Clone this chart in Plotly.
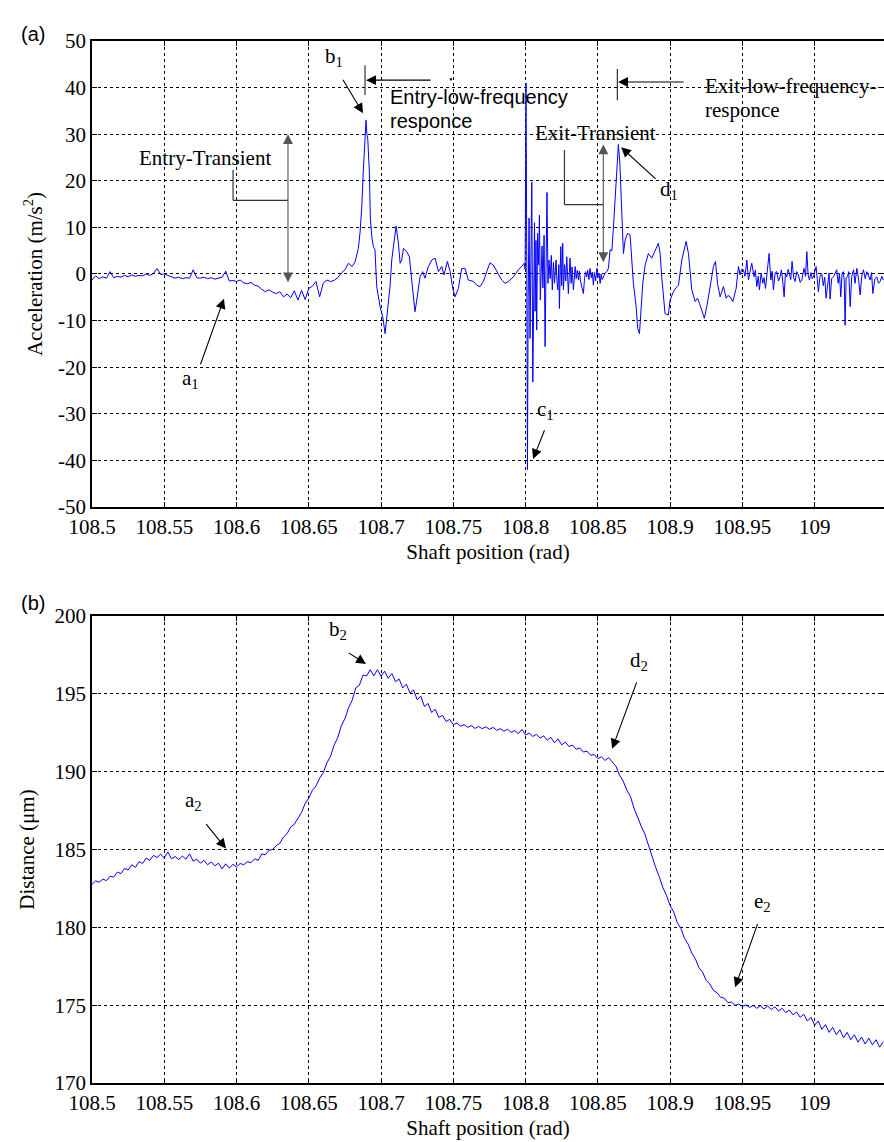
import plotly.graph_objects as go

# ---------------- (a) acceleration, (position rad, value m/s^2) -------------
acc_entry = [
    (108.5000, -1.3), (108.5025, -0.4), (108.5050, -1.0), (108.5075, -0.6), (108.5100, -0.9),
    (108.5125, 0.5), (108.5150, -0.8), (108.5175, -0.5), (108.5200, -0.7), (108.5225, -0.3),
    (108.5250, -0.6), (108.5275, -0.2), (108.5300, -0.5), (108.5325, -0.3), (108.5350, -0.4),
    (108.5375, 0.0), (108.5400, -0.3), (108.5425, 0.1), (108.5450, 1.2), (108.5475, -0.1),
    (108.5500, 0.0), (108.5525, -0.3), (108.5550, -0.6), (108.5575, -0.9), (108.5600, -0.7),
    (108.5625, -1.0), (108.5650, -0.8), (108.5675, -0.9), (108.5700, 0.9), (108.5725, -0.8),
    (108.5750, -0.9), (108.5775, -0.7), (108.5800, -1.0), (108.5825, -0.8), (108.5850, -1.1),
    (108.5875, -0.9), (108.5900, -0.7), (108.5925, 0.6), (108.5950, -1.5), (108.5975, -1.4),
    (108.6000, -1.6), (108.6025, -1.3), (108.6050, -1.9), (108.6075, -2.1), (108.6100, -1.8),
    (108.6125, -2.4), (108.6150, -2.6), (108.6175, -3.3), (108.6200, -3.8), (108.6225, -3.4),
    (108.6250, -3.9), (108.6275, -4.2), (108.6300, -3.8), (108.6325, -4.9), (108.6350, -4.3),
    (108.6375, -5.1), (108.6400, -3.6), (108.6425, -5.6), (108.6450, -3.5), (108.6475, -5.5),
    (108.6500, -3.1), (108.6525, -2.6), (108.6550, -1.6), (108.6575, -4.9), (108.6600, -2.0),
    (108.6625, -1.3), (108.6650, -1.6), (108.6675, -1.4), (108.6700, -0.8), (108.6725, 0.2),
    (108.6750, 0.9), (108.6775, 2.3), (108.6800, 1.6), (108.6820, 2.6),
]
acc_entry_peak = [
    (108.6843, 5.5), (108.6855, 9.0), (108.6866, 14.0), (108.6877, 22.0), (108.6888, 30.0),
    (108.6896, 33.0), (108.6902, 30.0), (108.6908, 29.0), (108.6919, 22.0), (108.6926, 12.0),
    (108.6936, 8.0), (108.6947, 5.9), (108.6958, 5.2), (108.6970, -2.7), (108.6993, -7.0),
    (108.7012, -9.2), (108.7028, -12.8), (108.7039, -9.2), (108.7062, -2.7), (108.7074, 3.0),
    (108.7090, 7.3), (108.7104, 10.3), (108.7120, 6.6), (108.7132, 2.3), (108.7143, 3.0),
    (108.7155, 5.5), (108.7178, 4.8), (108.7196, 3.7), (108.7212, -1.3), (108.7228, -5.6),
    (108.7235, -8.1), (108.7247, -5.6), (108.7270, -0.6), (108.7288, 0.5), (108.7304, -0.9),
    (108.7327, 1.6), (108.7351, 3.0), (108.7374, 3.4), (108.7397, 0.5), (108.7420, 1.6),
    (108.7436, -0.2), (108.7459, 2.7), (108.7478, 0.5), (108.7496, -3.1), (108.7512, -4.9),
    (108.7535, -3.1), (108.7558, 1.2), (108.7581, 1.2), (108.7604, -1.3), (108.7639, -1.6),
    (108.7662, -2.4), (108.7685, -2.7), (108.7708, -1.6), (108.7731, 0.5), (108.7754, 2.4),
    (108.7777, 1.9), (108.7800, 0.5), (108.7835, -1.3), (108.7858, -2.0), (108.7881, -1.6),
    (108.7916, -0.6), (108.7950, 0.9), (108.7973, 1.6), (108.7990, 2.3),
]
acc_exit_transient = [
    (108.7997, 1.0), (108.8003, 41.0), (108.8008, 5.0), (108.8013, -42.0), (108.8018, -5.0),
    (108.8024, 12.0), (108.8031, -13.8), (108.8037, 8.0), (108.8043, 19.7), (108.8050, -23.2),
    (108.8056, 2.0), (108.8062, 11.0), (108.8066, -8.0), (108.8072, 7.2), (108.8077, -12.0),
    (108.8083, 8.7), (108.8090, 2.0), (108.8096, 12.6), (108.8102, -5.6), (108.8108, 3.0),
    (108.8114, 6.0), (108.8120, -3.0), (108.8128, 8.3), (108.8135, -15.6), (108.8141, 5.0),
    (108.8148, 17.5), (108.8155, -2.0), (108.8162, 3.0), (108.8170, -1.0), (108.8178, 4.0),
    (108.8185, -3.4), (108.8193, 2.5), (108.8200, -2.0), (108.8211, 3.0), (108.8217, -1.5),
    (108.8223, -3.4), (108.8230, 2.0), (108.8234, -7.4), (108.8240, 1.0), (108.8244, 5.9),
    (108.8250, -2.5), (108.8257, 6.6), (108.8262, -3.4), (108.8270, 2.0), (108.8278, -1.5),
    (108.8285, 3.7), (108.8296, -4.2), (108.8302, 1.0), (108.8308, 3.4), (108.8315, -2.0),
    (108.8322, 1.5), (108.8331, -3.4), (108.8337, 0.5), (108.8343, 1.6), (108.8350, -1.0),
    (108.8358, 0.8), (108.8366, -1.3), (108.8372, 0.6), (108.8380, -1.5), (108.8389, -2.7),
    (108.8400, -4.2), (108.8408, -1.0), (108.8415, 0.5), (108.8423, -0.6), (108.8430, 0.8),
    (108.8438, -1.2), (108.8446, 1.2), (108.8455, -0.8), (108.8462, 0.4), (108.8469, -2.4),
    (108.8476, 0.3), (108.8485, -1.5), (108.8493, 1.2), (108.8500, -0.8), (108.8508, 0.2),
    (108.8516, -2.0), (108.8523, 0.0), (108.8530, -1.2), (108.8539, -0.6), (108.8550, 0.2),
    (108.8562, 0.5), (108.8573, 1.2), (108.8585, 5.2), (108.8597, 5.0), (108.8608, 10.0),
    (108.8620, 16.0), (108.8631, 22.0), (108.8642, 27.8), (108.8652, 24.0), (108.8660, 17.0),
    (108.8666, 12.0), (108.8677, 4.4),
]
acc_exit_tail = [
    (108.8689, 7.3), (108.8705, 8.7), (108.8723, 8.4), (108.8735, 3.7), (108.8746, -2.0),
    (108.8765, -7.0), (108.8776, -11.7), (108.8788, -12.8), (108.8797, -9.2), (108.8811, -2.0),
    (108.8827, 1.9), (108.8850, 4.4), (108.8873, 3.4), (108.8896, 5.2), (108.8919, 6.6),
    (108.8931, 4.4), (108.8942, -0.6), (108.8965, -8.5), (108.8988, -8.8), (108.9000, -5.6),
    (108.9023, -3.8), (108.9040, -3.0), (108.9058, -2.4), (108.9081, 3.0), (108.9111, 7.0),
    (108.9127, 4.4), (108.9150, -3.4), (108.9173, -5.9), (108.9190, -5.2), (108.9203, -6.3),
    (108.9219, -7.7), (108.9237, -9.5), (108.9254, -7.0), (108.9277, -2.7), (108.9300, 1.6),
    (108.9314, 2.7), (108.9328, -2.0), (108.9346, -4.9), (108.9369, -2.7), (108.9388, -5.2),
    (108.9400, -4.6), (108.9415, -4.9), (108.9434, -5.9), (108.9457, -3.1), (108.9473, 1.6),
    (108.9484, -0.2), (108.9495, 1.0), (108.9507, 0.9), (108.9518, -0.5), (108.9531, 3.0),
    (108.9542, -1.3), (108.9553, 0.5), (108.9565, 2.3), (108.9581, -0.6), (108.9590, 0.8),
    (108.9600, -2.7), (108.9610, -0.5), (108.9618, -3.4), (108.9630, 0.2), (108.9641, -2.0),
    (108.9650, -0.8), (108.9660, -3.1), (108.9672, 0.5), (108.9685, 4.4), (108.9697, -1.3),
    (108.9706, 0.6), (108.9715, -3.4), (108.9727, 0.3), (108.9738, 0.5), (108.9750, -1.5),
    (108.9761, -0.6), (108.9770, 0.9), (108.9779, -1.5), (108.9789, -4.9), (108.9798, 0.2),
    (108.9807, -0.6), (108.9817, 1.0), (108.9826, 0.1), (108.9835, -1.2), (108.9844, 2.7),
    (108.9855, -0.8), (108.9865, -1.6), (108.9876, 0.5), (108.9888, -0.2), (108.9900, -1.8),
    (108.9911, -1.3), (108.9920, 0.4), (108.9927, 1.2), (108.9937, -0.5), (108.9946, 4.8),
    (108.9955, -0.2), (108.9964, -1.3), (108.9975, 0.3), (108.9983, -1.0), (108.9992, -0.6),
    (109.0001, 0.4), (109.0010, 1.6), (109.0018, -1.0), (109.0026, -3.8), (109.0037, -0.5),
    (109.0049, 0.1), (109.0060, -2.5), (109.0070, -0.7), (109.0079, -5.2), (109.0090, -1.5),
    (109.0100, 0.2), (109.0107, -5.4), (109.0118, -1.0), (109.0130, -0.6), (109.0141, 0.3),
    (109.0153, 0.9), (109.0163, -2.0), (109.0172, 0.1), (109.0181, -4.9), (109.0190, 0.2),
    (109.0199, 0.5), (109.0205, -1.5), (109.0211, -11.0), (109.0218, -0.8), (109.0227, -0.6),
    (109.0236, 0.5), (109.0246, -7.0), (109.0257, -0.5), (109.0269, 0.9), (109.0280, -2.0),
    (109.0292, 1.2), (109.0303, -0.8), (109.0315, -4.5), (109.0326, -0.5), (109.0338, 0.9),
    (109.0350, -1.0), (109.0361, 0.5), (109.0372, -0.5), (109.0384, -1.3), (109.0394, 0.3),
    (109.0403, -4.2), (109.0417, -1.0), (109.0430, -0.6), (109.0442, -2.0), (109.0453, -1.6),
    (109.0465, -0.5), (109.0475, -1.3),
]

# ---------------- (b) distance, (position rad, value um) --------------------
dist_first = [
    (108.5000, 182.75), (108.5025, 182.98), (108.5050, 182.90), (108.5075, 183.10), (108.5100, 183.00),
    (108.5125, 183.28), (108.5150, 183.22), (108.5175, 183.55), (108.5200, 183.45), (108.5225, 183.78),
    (108.5250, 183.68), (108.5275, 184.02), (108.5300, 183.85), (108.5325, 184.22), (108.5350, 184.10),
    (108.5375, 184.45), (108.5400, 184.30), (108.5425, 184.62), (108.5450, 184.48), (108.5475, 184.70),
    (108.5500, 184.45), (108.5525, 184.85), (108.5550, 184.40), (108.5575, 184.55), (108.5600, 184.35),
    (108.5625, 184.58), (108.5650, 184.38), (108.5675, 184.72), (108.5700, 184.25), (108.5725, 184.38),
    (108.5750, 184.12), (108.5775, 184.30), (108.5800, 184.02), (108.5825, 184.20), (108.5850, 183.95),
    (108.5875, 184.12), (108.5900, 183.75), (108.5925, 184.08), (108.5950, 183.80), (108.5975, 184.05),
    (108.6000, 183.88), (108.6025, 184.10), (108.6050, 184.02), (108.6075, 184.22), (108.6100, 184.15),
    (108.6125, 184.40), (108.6150, 184.30), (108.6175, 184.72), (108.6200, 184.66), (108.6225, 184.95),
    (108.6250, 185.00), (108.6275, 185.25), (108.6300, 185.40), (108.6325, 185.80), (108.6350, 186.02),
    (108.6375, 186.45), (108.6400, 186.62), (108.6425, 187.05), (108.6450, 187.38), (108.6475, 187.96),
    (108.6500, 188.30), (108.6525, 188.80), (108.6550, 189.08), (108.6575, 189.58), (108.6600, 189.92),
    (108.6625, 190.56), (108.6650, 190.98), (108.6675, 191.70), (108.6700, 192.18), (108.6725, 192.95),
    (108.6750, 193.40), (108.6775, 194.10), (108.6800, 194.58), (108.6825, 195.38), (108.6850, 195.55),
    (108.6875, 196.20), (108.6900, 196.15), (108.6925, 196.55), (108.6950, 196.15), (108.6975, 196.55),
    (108.7000, 196.12), (108.7025, 196.45), (108.7050, 196.00), (108.7075, 196.30), (108.7100, 195.78),
    (108.7125, 195.95), (108.7150, 195.38), (108.7175, 195.62), (108.7200, 195.05), (108.7225, 195.25),
    (108.7250, 194.62), (108.7275, 194.85), (108.7300, 194.18), (108.7325, 194.38), (108.7350, 193.80),
    (108.7375, 194.00), (108.7400, 193.48), (108.7425, 193.62), (108.7450, 193.22), (108.7475, 193.36),
    (108.7500, 193.02), (108.7525, 193.12), (108.7550, 192.92), (108.7575, 193.02), (108.7600, 192.85),
    (108.7625, 192.95), (108.7650, 192.78), (108.7675, 192.90), (108.7700, 192.76), (108.7725, 192.88),
]
dist_second = [
    (108.7750, 192.72), (108.7775, 192.84), (108.7800, 192.66), (108.7825, 192.76), (108.7850, 192.60),
    (108.7875, 192.72), (108.7900, 192.52), (108.7925, 192.64), (108.7950, 192.44), (108.7975, 192.72),
    (108.8000, 192.35), (108.8025, 192.48), (108.8050, 192.26), (108.8075, 192.40), (108.8100, 192.15),
    (108.8125, 192.30), (108.8150, 192.02), (108.8175, 192.20), (108.8200, 191.85), (108.8225, 192.10),
    (108.8250, 191.72), (108.8275, 191.90), (108.8300, 191.62), (108.8325, 191.70), (108.8350, 191.44),
    (108.8375, 191.52), (108.8400, 191.26), (108.8425, 191.32), (108.8450, 191.05), (108.8475, 191.10),
    (108.8500, 190.84), (108.8525, 190.95), (108.8550, 190.72), (108.8575, 190.90), (108.8600, 190.60),
    (108.8625, 190.35), (108.8650, 189.78), (108.8675, 189.40), (108.8700, 188.82), (108.8725, 188.42),
    (108.8750, 187.66), (108.8775, 187.05), (108.8800, 186.50), (108.8825, 186.00), (108.8850, 185.25),
    (108.8875, 184.66), (108.8900, 183.85), (108.8925, 183.25), (108.8950, 182.55), (108.8975, 182.05),
    (108.9000, 181.40), (108.9025, 180.98), (108.9050, 180.30), (108.9075, 179.92), (108.9100, 179.28),
    (108.9125, 178.92), (108.9150, 178.35), (108.9175, 177.98), (108.9200, 177.40), (108.9225, 177.12),
    (108.9250, 176.58), (108.9275, 176.36), (108.9300, 175.94), (108.9325, 175.80), (108.9350, 175.50),
    (108.9375, 175.45), (108.9400, 175.16), (108.9425, 175.20), (108.9450, 174.98), (108.9475, 175.08),
    (108.9500, 174.92), (108.9525, 175.02), (108.9550, 174.85), (108.9575, 174.98), (108.9600, 174.80),
    (108.9625, 174.96), (108.9650, 174.76), (108.9675, 174.94), (108.9700, 174.72), (108.9725, 174.90),
    (108.9750, 174.62), (108.9775, 174.80), (108.9800, 174.52), (108.9825, 174.68), (108.9850, 174.38),
    (108.9875, 174.56), (108.9900, 174.22), (108.9925, 174.42), (108.9950, 173.98), (108.9975, 174.22),
    (109.0000, 173.72), (109.0025, 173.98), (109.0050, 173.45), (109.0075, 173.75), (109.0100, 173.25),
    (109.0125, 173.58), (109.0150, 173.10), (109.0175, 173.42), (109.0200, 172.90), (109.0225, 173.25),
    (109.0250, 172.78), (109.0275, 173.10), (109.0300, 172.62), (109.0325, 172.95), (109.0350, 172.50),
    (109.0375, 172.88), (109.0400, 172.45), (109.0425, 172.78), (109.0450, 172.30), (109.0475, 172.65),
]

x_ticks = [108.5, 108.55, 108.6, 108.65, 108.7, 108.75, 108.8, 108.85, 108.9, 108.95, 109.0]
x_tick_labels = ["108.5", "108.55", "108.6", "108.65", "108.7", "108.75", "108.8",
                 "108.85", "108.9", "108.95", "109"]
acc_ticks = [-50, -40, -30, -20, -10, 0, 10, 20, 30, 40, 50]
acc_tick_labels = ["-50", "-40", "-30", "-20", "-10", "0", "10", "20", "30", "40", "50"]
dist_ticks = [170, 175, 180, 185, 190, 195, 200]
dist_tick_labels = ["170", "175", "180", "185", "190", "195", "200"]

acc = acc_entry + acc_entry_peak + acc_exit_transient + acc_exit_tail
dist = dist_first + dist_second
acc_x, acc_y = [p[0] for p in acc], [p[1] for p in acc]
dist_x, dist_y = [p[0] for p in dist], [p[1] for p in dist]

SERIF = "Liberation Serif"
SANS = "Liberation Sans"
BLUE = "#0000ff"

fig = go.Figure()
fig.add_trace(go.Scatter(x=acc_x, y=acc_y, mode="lines", line=dict(color=BLUE, width=1),
                         xaxis="x", yaxis="y", showlegend=False, hoverinfo="skip"))
fig.add_trace(go.Scatter(x=dist_x, y=dist_y, mode="lines", line=dict(color=BLUE, width=1),
                         xaxis="x2", yaxis="y2", showlegend=False, hoverinfo="skip"))

ax_common = dict(showline=True, linecolor="black", linewidth=1.5, mirror="ticks",
                 ticks="inside", ticklen=5, tickwidth=1, tickcolor="black",
                 showgrid=True, gridcolor="black", griddash="dot", gridwidth=1,
                 zeroline=False, automargin=False,
                 tickfont=dict(family=SERIF, size=21, color="black"))

xr = [108.5, 109.048]
title_font = dict(family=SERIF, size=21, color="black")
fig.update_layout(
    width=884, height=1142, template="none",
    margin=dict(l=92, r=0, t=41, b=59),
    plot_bgcolor="white", paper_bgcolor="white", showlegend=False,
    xaxis=dict(domain=[0, 1], anchor="y", range=xr, tickvals=x_ticks, ticktext=x_tick_labels,
               title=dict(text="Shaft position (rad)", font=title_font, standoff=6), **ax_common),
    yaxis=dict(domain=[0.5528, 1], anchor="x", range=[-50, 50], tickvals=acc_ticks,
               ticktext=acc_tick_labels,
               title=dict(text="Acceleration (m/s<sup>2</sup>)", font=title_font, standoff=10),
               **ax_common),
    xaxis2=dict(domain=[0, 1], anchor="y2", range=xr, tickvals=x_ticks, ticktext=x_tick_labels,
                title=dict(text="Shaft position (rad)", font=title_font, standoff=6), **ax_common),
    yaxis2=dict(domain=[0, 0.4482], anchor="x2", range=[170, 200], tickvals=dist_ticks,
                ticktext=dist_tick_labels,
                title=dict(text="Distance (μm)", font=title_font, standoff=14), **ax_common),
)


def arrow(xh, yh, xt, yt, xa, ya, color="black", both=False):
    d = dict(x=xh, y=yh, ax=xt, ay=yt, xref=xa, yref=ya, axref=xa, ayref=ya, text="",
             showarrow=True, arrowhead=2, arrowsize=1.8, arrowwidth=1.1, arrowcolor=color,
             standoff=0, startstandoff=0)
    if both:
        d.update(arrowside="end+start", startarrowhead=2, startarrowsize=1.8)
    return d


def label(x, y, text, xa, ya, family=SERIF, size=21, anchor="left"):
    return dict(x=x, y=y, xref=xa, yref=ya, text=text, showarrow=False, xanchor=anchor,
                yanchor="middle", font=dict(family=family, size=size, color="black"))


GRAY = "#555555"
ann = [
    # panel tags
    dict(x=-0.092, y=1.019, xref="paper", yref="paper", text="(a)", showarrow=False,
         font=dict(family=SANS, size=20, color="black")),
    dict(x=-0.092, y=0.4607, xref="paper", yref="paper", text="(b)", showarrow=False,
         font=dict(family=SANS, size=20, color="black")),
    # (a) annotations
    label(108.5782, 24.8, "Entry-Transient", "x", "y", anchor="center"),
    arrow(108.6356, 30.0, 108.6356, -2.1, "x", "y", color=GRAY, both=True),
    label(108.6599, 46.6, "b<sub>1</sub>", "x", "y"),
    arrow(108.6875, 34.5, 108.6730, 42.0, "x", "y"),
    arrow(108.6896, 41.6, 108.7353, 41.6, "x", "y"),
    label(108.7048, 38.0, "Entry-low-frequency", "x", "y", family=SANS, size=20),
    label(108.7048, 32.9, "responce", "x", "y", family=SANS, size=20),
    label(108.8481, 30.2, "Exit-Transient", "x", "y", anchor="center"),
    arrow(108.8538, 27.8, 108.8538, 2.2, "x", "y", color=GRAY, both=True),
    label(108.8917, 18.0, "d<sub>1</sub>", "x", "y"),
    arrow(108.8661, 27.2, 108.8910, 20.1, "x", "y"),
    arrow(108.8640, 41.2, 108.9104, 41.2, "x", "y"),
    label(108.9228, 40.3, "Exit-low-frequency-", "x", "y"),
    label(108.9228, 35.2, "responce", "x", "y"),
    label(108.5609, -22.5, "a<sub>1</sub>", "x", "y"),
    arrow(108.5913, -5.3, 108.5747, -19.7, "x", "y"),
    label(108.8066, -29.1, "c<sub>1</sub>", "x", "y"),
    arrow(108.8052, -39.7, 108.8135, -33.2, "x", "y"),
    # (b) annotations
    label(108.5630, 188.1, "a<sub>2</sub>", "x2", "y2"),
    arrow(108.5927, 185.06, 108.5782, 186.73, "x2", "y2"),
    label(108.6626, 199.1, "b<sub>2</sub>", "x2", "y2"),
    arrow(108.6896, 196.92, 108.6765, 197.69, "x2", "y2"),
    label(108.8709, 197.1, "d<sub>2</sub>", "x2", "y2"),
    arrow(108.8599, 191.47, 108.8772, 195.83, "x2", "y2"),
    label(108.9567, 181.6, "e<sub>2</sub>", "x2", "y2"),
    arrow(108.9450, 176.15, 108.9609, 180.32, "x2", "y2"),
]
fig.update_layout(annotations=ann)

line_k = dict(color="#333333", width=1.2)
shapes = [
    dict(type="line", xref="x", yref="y", x0=108.5976, x1=108.5976, y0=22.3, y1=15.8, line=line_k),
    dict(type="line", xref="x", yref="y", x0=108.5976, x1=108.6356, y0=15.8, y1=15.8, line=line_k),
    dict(type="line", xref="x", yref="y", x0=108.6889, x1=108.6889, y0=44.8, y1=38.4, line=line_k),
    dict(type="line", xref="x", yref="y", x0=108.8269, x1=108.8269, y0=26.6, y1=14.9, line=line_k),
    dict(type="line", xref="x", yref="y", x0=108.8269, x1=108.8538, y0=14.9, y1=14.9, line=line_k),
    dict(type="line", xref="x", yref="y", x0=108.8635, x1=108.8635, y0=44.0, y1=37.3, line=line_k),
    dict(type="circle", xref="x", yref="y", x0=108.7478, x1=108.7490, y0=41.55, y1=42.05,
         line=dict(color="black", width=0.5), fillcolor="black"),
]
fig.update_layout(shapes=shapes)

fig.write_html("out.html")
